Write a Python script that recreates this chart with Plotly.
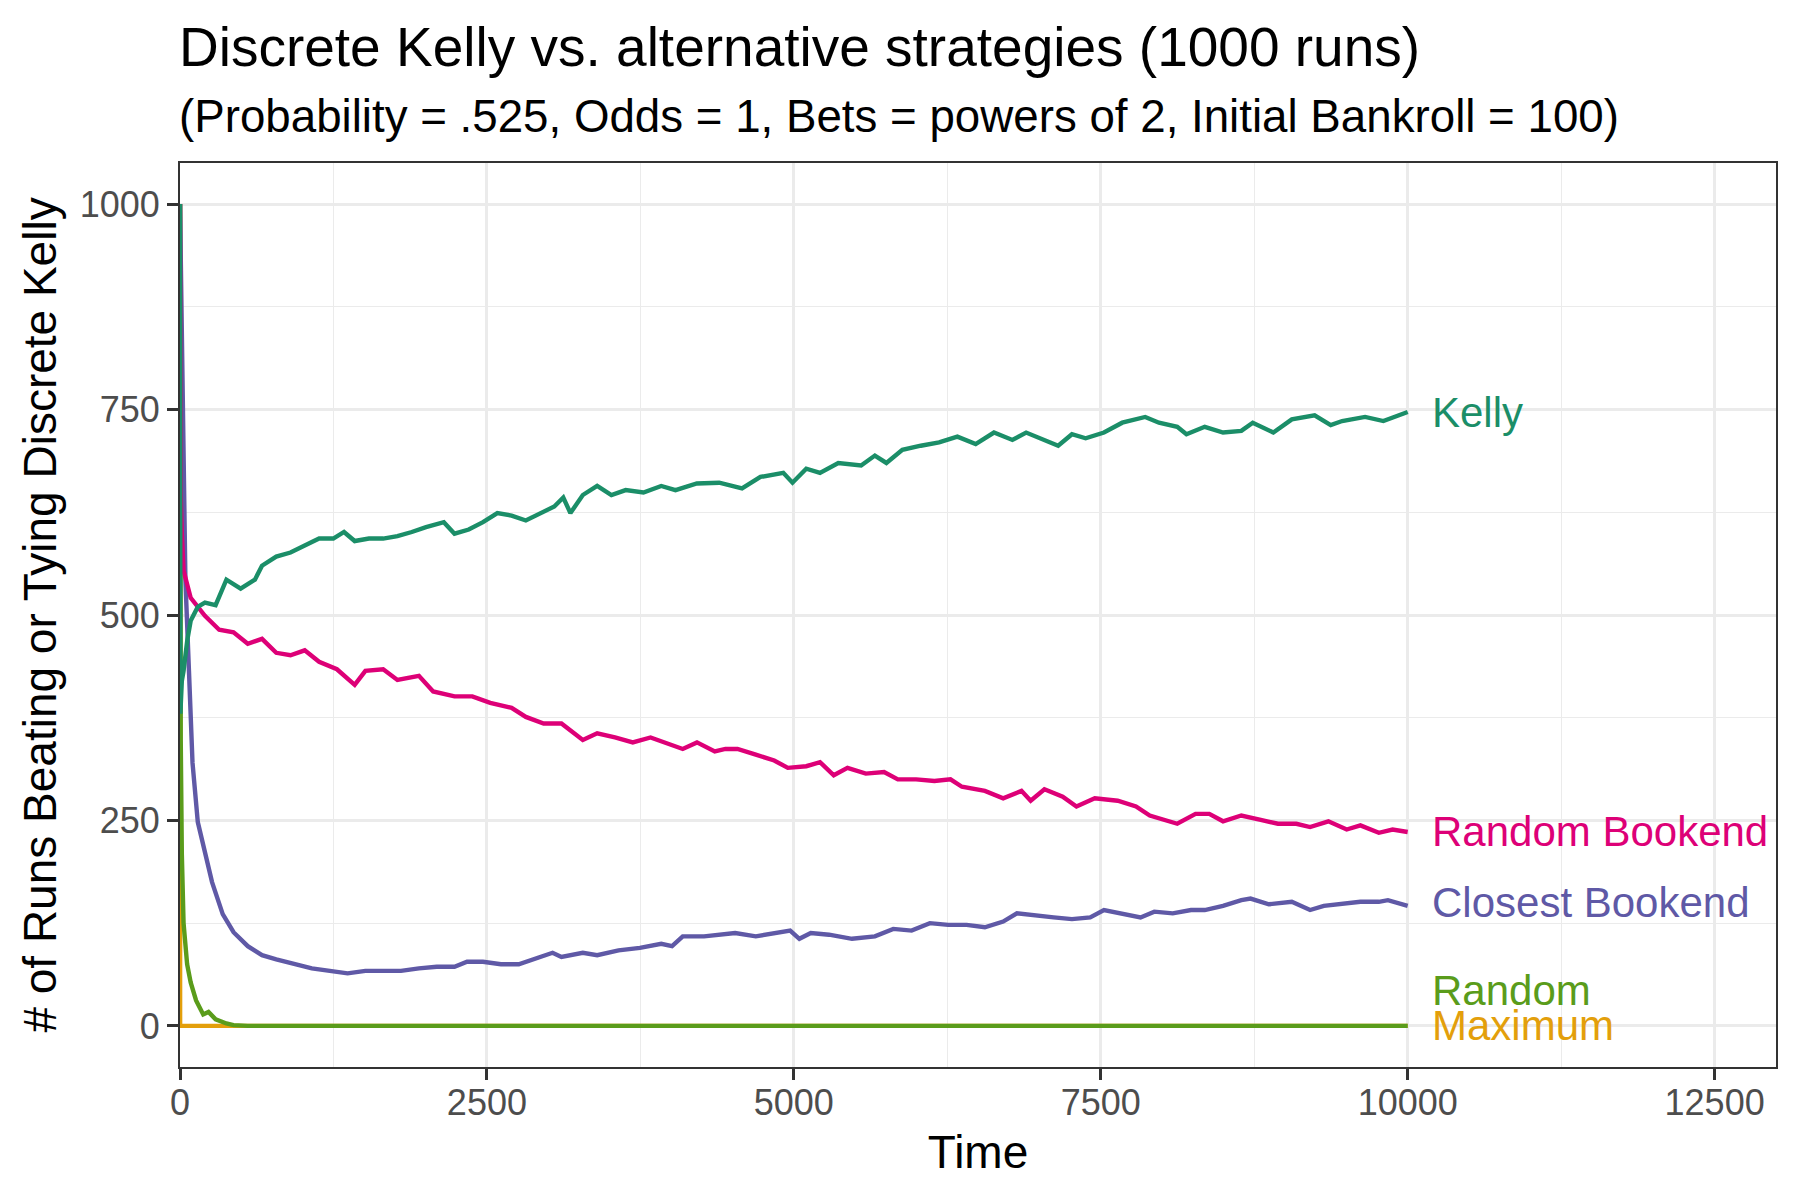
import plotly.graph_objects as go

# values (time step, # of runs)
kelly_t = [0, 3, 15, 29, 60, 87, 145, 203, 290, 378, 494, 610, 668, 784, 900, 1016, 1133, 1249, 1336,
           1423, 1539, 1655, 1771, 1888, 2004, 2149, 2236, 2352, 2468, 2585, 2701, 2817, 2933, 3049,
           3122, 3180, 3281, 3398, 3514, 3630, 3775, 3920, 4036, 4210, 4392, 4578, 4728, 4914, 4989,
           5101, 5213, 5362, 5548, 5660, 5754, 5884, 6034, 6183, 6332, 6481, 6630, 6780, 6892, 7041,
           7153, 7265, 7377, 7526, 7675, 7862, 7974, 8123, 8198, 8347, 8496, 8645, 8738, 8906, 9056,
           9242, 9373, 9466, 9653, 9802, 10000]
kelly_n = [1000, 380, 420, 432, 470, 493, 510, 515, 512, 543, 532, 543, 560, 571, 576, 585, 593, 593, 601,
           590, 593, 593, 596, 601, 607, 613, 599, 604, 613, 624, 621, 615, 624, 632,
           643, 624, 646, 657, 646, 652, 649, 657, 652, 660, 661, 654, 668, 673, 661,
           678, 673, 685, 682, 694, 685, 701, 706, 710, 717, 708, 722, 713, 722, 713,
           706, 720, 715, 722, 734, 741, 734, 729, 720, 729, 722, 724, 734, 722, 738,
           743, 731, 736, 741, 736, 747]

rbook_t = [0, 5, 15, 29, 87, 203, 319, 436, 552, 668, 784, 900, 1016, 1133, 1278, 1423, 1510, 1655,
           1771, 1946, 2062, 2236, 2381, 2527, 2701, 2817, 2962, 3107, 3281, 3398, 3543, 3688, 3833,
           3978, 4095, 4211, 4356, 4443, 4541, 4690, 4840, 4951, 5101, 5213, 5325, 5437, 5586, 5735,
           5847, 5996, 6145, 6276, 6369, 6556, 6705, 6854, 6929, 7041, 7190, 7302, 7451, 7638, 7787,
           7899, 8123, 8272, 8384, 8496, 8645, 8794, 8943, 9093, 9205, 9354, 9503, 9615, 9765, 9877, 10000]
rbook_n = [1000, 650, 599, 554, 521, 499, 482, 479, 465, 471, 454, 451, 457, 443, 434, 415, 432, 434,
           421, 426, 407, 401, 401, 393, 387, 376, 368, 368, 348, 356, 351, 345, 351,
           343, 337, 345, 334, 337, 337, 330, 323, 314, 316, 321, 305, 314, 307, 309,
           300, 300, 298, 300, 291, 286, 277, 286, 274, 288, 279, 267, 277, 274, 267,
           256, 246, 258, 258, 249, 256, 251, 246, 246, 242, 249, 239, 244, 235, 239, 236]

cbook_t = [0, 15, 30, 44, 73, 102, 145, 203, 261, 348, 436, 552, 668, 784, 929, 1074, 1220, 1365, 1510,
           1655, 1800, 1946, 2091, 2236, 2338, 2468, 2614, 2759, 2875, 3035, 3107, 3281, 3398, 3572,
           3746, 3920, 4008, 4095, 4269, 4443, 4522, 4690, 4840, 4970, 5045, 5138, 5287, 5474, 5660,
           5810, 5959, 6108, 6257, 6407, 6556, 6705, 6817, 6966, 7116, 7265, 7414, 7526, 7675, 7824,
           7936, 8086, 8235, 8347, 8496, 8645, 8720, 8869, 9056, 9205, 9317, 9466, 9615, 9765, 9839, 10000]
cbook_n = [1000, 820, 650, 543, 432, 320, 248, 209, 175, 136, 114, 97, 86, 81, 75, 70, 67, 64, 67,
           67, 67, 70, 72, 72, 78, 78, 75, 75, 81, 89, 84, 89, 86, 92,
           95, 100, 97, 109, 109, 111, 113, 109, 113, 116, 106, 113, 111, 106, 109,
           118, 116, 125, 123, 123, 120, 127, 137, 134, 132, 130, 132, 141, 137, 132,
           139, 137, 141, 141, 146, 153, 155, 148, 151, 141, 146, 148, 151, 151, 153, 146]

random_t = [0, 3, 6, 15, 29, 58, 87, 131, 189, 232, 290, 378, 436, 552, 10000]
random_n = [1000, 500, 348, 209, 125, 75, 53, 31, 14, 17, 8, 3, 1, 0, 0]

max_t = [0, 1, 10000]
max_n = [1000, 0, 0]

names = ['Maximum', 'Random', 'Closest Bookend', 'Random Bookend', 'Kelly']
colors = ['#E39F0B', '#5A9C1B', '#5F59A6', '#DD0077', '#1B8E68']
series_t = [max_t, random_t, cbook_t, rbook_t, kelly_t]
series_n = [max_n, random_n, cbook_n, rbook_n, kelly_n]
label_y = [0, 43, 150, 236, 747]

FONT = 'Liberation Sans, Arial, sans-serif'

fig = go.Figure()
for name, col, t, n in zip(names, colors, series_t, series_n):
  fig.add_trace(go.Scatter(x=t, y=n, mode='lines', name=name,
                           line=dict(color=col, width=4.4)))

annotations = []
for name, col, ly in zip(names, colors, label_y):
  annotations.append(dict(x=10180, y=ly, xref='x', yref='y', text=name, showarrow=False,
                          xanchor='left', yanchor='middle',
                          font=dict(family=FONT, size=42, color=col)))

# title + subtitle
annotations.append(dict(x=-0.002, y=1.1278, xref='paper', yref='paper', xanchor='left', yanchor='middle',
                        text='Discrete Kelly vs. alternative strategies (1000 runs)', showarrow=False,
                        font=dict(family=FONT, size=55, color='black')))
annotations.append(dict(x=-0.002, y=1.0514, xref='paper', yref='paper', xanchor='left', yanchor='middle',
                        text='(Probability = .525, Odds = 1, Bets = powers of 2, Initial Bankroll = 100)',
                        showarrow=False, font=dict(family=FONT, size=45.7, color='black')))

axis_common = dict(
  showline=True, mirror=True, linecolor='#333333', linewidth=2,
  ticks='outside', ticklen=11, tickwidth=2.5, tickcolor='#333333',
  showgrid=True, gridcolor='#EBEBEB', gridwidth=2.8, zeroline=False,
  tickfont=dict(family=FONT, size=36, color='#4D4D4D'),
)

fig.update_layout(
  width=1800, height=1200,
  paper_bgcolor='white', plot_bgcolor='white',
  showlegend=False,
  margin=dict(l=172, r=32, t=155, b=141),
  annotations=annotations,
  xaxis=dict(axis_common, range=[0, 13000], tick0=0, dtick=2500, tickformat='d',
             ticklabelstandoff=-8,
             minor=dict(dtick=1250, tick0=0, showgrid=True, gridcolor='#EBEBEB', gridwidth=1.4),
             title=dict(text='Time', font=dict(family=FONT, size=46, color='black'), standoff=14)),
  yaxis=dict(axis_common, range=[-50, 1050], tick0=0, dtick=250,
             minor=dict(dtick=125, tick0=0, showgrid=True, gridcolor='#EBEBEB', gridwidth=1.4),
             title=dict(text='# of Runs Beating or Tying Discrete Kelly',
                        font=dict(family=FONT, size=46, color='black'), standoff=9)),
)

fig.write_html("out.html")
